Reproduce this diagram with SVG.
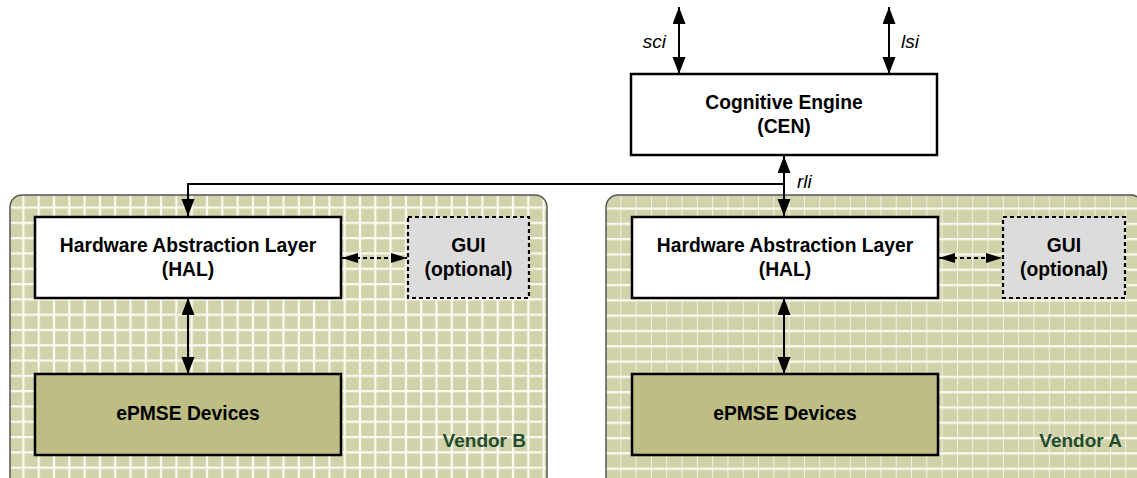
<svg xmlns="http://www.w3.org/2000/svg" width="1137" height="478" viewBox="0 0 1137 478">
<style>
.lbl{font-family:"Liberation Sans",Arial,sans-serif;font-size:19.3px;font-weight:bold;fill:#000;text-anchor:middle}
.vendor{font-family:"Liberation Sans",Arial,sans-serif;font-size:19px;font-weight:bold;fill:#1f4d2e;text-anchor:end}
.it{font-family:"Liberation Sans",Arial,sans-serif;font-size:19px;font-style:italic;fill:#000}
.box{fill:#fff;stroke:#000;stroke-width:2.5}
.dev{fill:#bebe84;stroke:#000;stroke-width:2.5}
.gui{fill:#dcdcdc;stroke:#000;stroke-width:2.2;stroke-dasharray:4 3}
.cont{stroke:#555;stroke-width:1.5}
.conn{stroke:#000;stroke-width:2;fill:none}
.dash{stroke:#000;stroke-width:2;fill:none;stroke-dasharray:4 3}
.gl{fill:#fafaf2}
</style>
<defs>
<pattern id="gridL" patternUnits="userSpaceOnUse" x="10" y="195" width="15.3" height="15.3">
<rect width="15.3" height="15.3" fill="#d2d2aa"/>
<rect class="gl" x="12.3" width="2.2" height="15.3"/>
<rect class="gl" y="11.5" width="15.3" height="2.2"/>
</pattern>
<pattern id="gridR" patternUnits="userSpaceOnUse" x="606" y="195" width="15.3" height="15.3">
<rect width="15.3" height="15.3" fill="#d2d2aa"/>
<rect class="gl" x="14.5" width="2.2" height="15.3"/>
<rect class="gl" y="12.5" width="15.3" height="2.2"/>
</pattern>
<marker id="ah" markerUnits="userSpaceOnUse" markerWidth="18" markerHeight="14" refX="17" refY="6.5" orient="auto-start-reverse">
<path d="M0,0 L17,6.5 L0,13 Z" fill="#000"/>
</marker>
<marker id="ahd" markerUnits="userSpaceOnUse" markerWidth="17" markerHeight="11" refX="16" refY="5" orient="auto-start-reverse">
<path d="M0,0 L16,5 L0,10 Z" fill="#000"/>
</marker>
</defs>
<rect width="1137" height="478" fill="#fff"/>

<g id="vendorB">
<rect class="cont" x="10" y="195" width="537" height="295" rx="12" fill="url(#gridL)"/>
<text class="vendor" x="526" y="447">Vendor B</text>
</g>
<g id="vendorA">
<rect class="cont" x="606" y="195" width="537" height="295" rx="12" fill="url(#gridR)"/>
<text class="vendor" x="1122" y="447">Vendor A</text>
</g>

<g id="cen">
<rect class="box" x="631" y="74" width="306" height="81"/>
<text class="lbl" x="784" y="109">Cognitive Engine</text>
<text class="lbl" x="784" y="133">(CEN)</text>
</g>

<g id="halB">
<rect class="box" x="35" y="217" width="306" height="81"/>
<text class="lbl" x="188" y="252">Hardware Abstraction Layer</text>
<text class="lbl" x="188" y="276">(HAL)</text>
</g>
<g id="guiB">
<rect class="gui" x="408" y="217" width="121" height="81"/>
<text class="lbl" x="468.5" y="252">GUI</text>
<text class="lbl" x="468.5" y="276">(optional)</text>
</g>
<g id="devB">
<rect class="dev" x="35" y="374" width="306" height="81"/>
<text class="lbl" x="188" y="420">ePMSE Devices</text>
</g>

<g id="halA">
<rect class="box" x="632" y="217" width="306" height="81"/>
<text class="lbl" x="785" y="252">Hardware Abstraction Layer</text>
<text class="lbl" x="785" y="276">(HAL)</text>
</g>
<g id="guiA">
<rect class="gui" x="1003" y="217" width="122" height="81"/>
<text class="lbl" x="1064" y="252">GUI</text>
<text class="lbl" x="1064" y="276">(optional)</text>
</g>
<g id="devA">
<rect class="dev" x="632" y="374" width="306" height="81"/>
<text class="lbl" x="785" y="420">ePMSE Devices</text>
</g>

<g id="connectors">
<line class="conn" x1="679" y1="7" x2="679" y2="74" marker-start="url(#ah)" marker-end="url(#ah)"/>
<line class="conn" x1="889" y1="7" x2="889" y2="74" marker-start="url(#ah)" marker-end="url(#ah)"/>
<line class="conn" x1="784" y1="156" x2="784" y2="216" marker-start="url(#ah)" marker-end="url(#ah)"/>
<polyline class="conn" points="784,184 188,184 188,216" marker-end="url(#ah)"/>
<line class="conn" x1="188" y1="298" x2="188" y2="374" marker-start="url(#ah)" marker-end="url(#ah)"/>
<line class="conn" x1="784" y1="298" x2="784" y2="374" marker-start="url(#ah)" marker-end="url(#ah)"/>
<line class="dash" x1="342" y1="258" x2="407" y2="258" marker-start="url(#ahd)" marker-end="url(#ahd)"/>
<line class="dash" x1="939" y1="258" x2="1002" y2="258" marker-start="url(#ahd)" marker-end="url(#ahd)"/>
<text class="it" x="666" y="48" text-anchor="end">sci</text>
<text class="it" x="901" y="48">lsi</text>
<text class="it" x="797" y="188">rli</text>
</g>
</svg>
